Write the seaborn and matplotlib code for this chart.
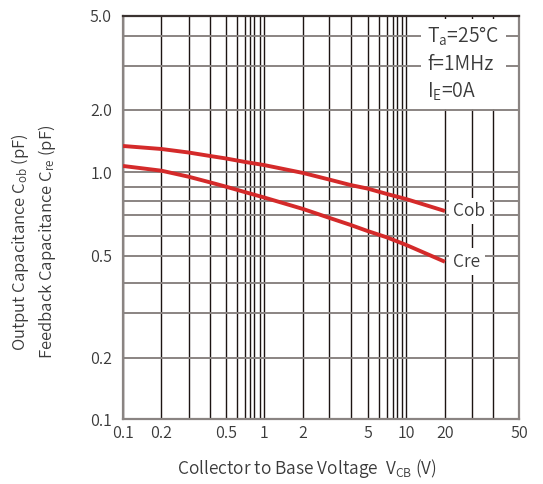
import numpy as np
import pandas as pd
import matplotlib
matplotlib.use("Agg")
import matplotlib.pyplot as plt
from matplotlib.ticker import FixedLocator, FixedFormatter, NullFormatter
import seaborn as sns

# ---- data -------------------------------------------------------------
vcb = [0.1, 0.2, 0.3, 0.4, 0.5, 0.7, 1, 2, 3, 4, 5, 7, 10, 20]
cob = [1.34, 1.296, 1.246, 1.199, 1.166, 1.121, 1.084, 0.995, 0.949, 0.911,
       0.886, 0.846, 0.811, 0.725]
cre = [1.073, 1.018, 0.968, 0.929, 0.90, 0.859, 0.822, 0.739, 0.685, 0.650,
       0.622, 0.592, 0.553, 0.477]

x_ticks = [0.1, 0.2, 0.5, 1, 2, 5, 10, 20, 50]
x_tick_labels = ["0.1", "0.2", "0.5", "1", "2", "5", "10", "20", "50"]
y_ticks = [0.1, 0.2, 0.5, 1, 2, 5]
y_tick_labels = ["0.1", "0.2", "0.5", "1.0", "2.0", "5.0"]

# rulings of the chart paper
x_rules = [0.1, 0.2, 0.3, 0.4, 0.5, 0.6, 0.7, 0.8, 0.9, 0.95, 1,
           2, 3, 4, 5, 6, 7, 8, 9, 9.5, 10, 20, 30, 40, 50]
y_rules = [0.1, 0.2, 0.3, 0.4, 0.5, 0.6, 0.7, 0.8, 0.9, 1, 2, 3, 4, 5]

# the paper's decades are not evenly ruled: position of each ruling
x_rule_pos = [123.3, 161.7, 189.0, 210.3, 226.3, 237.7, 245.7, 250.3, 254.7,
              259.7, 264.3, 303.3, 329.0, 350.7, 367.7, 378.7, 387.3, 392.7,
              397.3, 402.0, 406.3, 445.0, 472.3, 492.7, 519.0]
y_rule_pos = [419.0, 358.0, 312.7, 283.3, 256.0, 236.0, 214.7, 200.7, 186.7,
              172.3, 110.0, 66.0, 36.0, 16.0]


def paper_scale(values, positions):
    lv = np.log10(np.asarray(values, float))
    p = np.asarray(positions, float)
    s_lo = (p[1] - p[0]) / (lv[1] - lv[0])
    s_hi = (p[-1] - p[-2]) / (lv[-1] - lv[-2])

    def fwd(v):
        l = np.log10(np.clip(np.asarray(v, float), 1e-9, None))
        out = np.interp(l, lv, p)
        out = np.where(l < lv[0], p[0] + (l - lv[0]) * s_lo, out)
        out = np.where(l > lv[-1], p[-1] + (l - lv[-1]) * s_hi, out)
        return out

    def inv(t):
        t = np.asarray(t, float)
        l = np.interp(t, p, lv)
        l = np.where(t < p[0], lv[0] + (t - p[0]) / s_lo, l)
        l = np.where(t > p[-1], lv[-1] + (t - p[-1]) / s_hi, l)
        return 10.0 ** l

    return fwd, inv


# ---- style ------------------------------------------------------------
sns.set_theme(style="white")
FONT = ["Noto Sans CJK JP", "DejaVu Sans"]
plt.rcParams["font.family"] = FONT
plt.rcParams["font.weight"] = 350
plt.rcParams["mathtext.fontset"] = "custom"
plt.rcParams["mathtext.rm"] = "Noto Sans CJK JP:weight=350"
plt.rcParams["mathtext.it"] = "Noto Sans CJK JP:weight=350"

TEXT = "#3a3a3a"
RED = "#d42a2a"
VLINE = "#1c1412"
HLINE = "#8a8482"

df = pd.DataFrame({
    "V": vcb * 2,
    "C": cob + cre,
    "curve": ["Cob"] * len(vcb) + ["Cre"] * len(vcb),
})

fig = plt.figure(figsize=(5.43, 4.84), dpi=100)
W, H = 543, 484
ax = fig.add_axes([123 / W, 1 - 419 / H, (519 - 123) / W, (419 - 16) / H])

ax.set_xscale("function", functions=paper_scale(x_rules, x_rule_pos))
ax.set_yscale("function",
              functions=paper_scale(y_rules, [-v for v in y_rule_pos]))

sns.lineplot(data=df, x="V", y="C", hue="curve",
             palette={"Cob": RED, "Cre": RED}, linewidth=2.8,
             legend=False, ax=ax, zorder=3, solid_capstyle="butt",
             solid_joinstyle="round")

ax.set_xlim(0.1, 50)
ax.set_ylim(0.1, 5)

ax.xaxis.set_major_locator(FixedLocator(x_ticks))
ax.xaxis.set_major_formatter(FixedFormatter(x_tick_labels))
ax.xaxis.set_minor_locator(FixedLocator(x_rules))
ax.xaxis.set_minor_formatter(NullFormatter())
ax.yaxis.set_major_locator(FixedLocator(y_ticks))
ax.yaxis.set_major_formatter(FixedFormatter(y_tick_labels))
ax.yaxis.set_minor_locator(FixedLocator(y_rules))
ax.yaxis.set_minor_formatter(NullFormatter())

ax.xaxis.grid(True, which="both", color=VLINE, linewidth=1.0, zorder=1)
ax.yaxis.grid(True, which="both", color=HLINE, linewidth=1.4, zorder=1)
ax.set_axisbelow(True)

ax.tick_params(axis="both", which="both", length=0)
ax.tick_params(axis="x", pad=4, labelsize=11.5, labelcolor=TEXT)
ax.tick_params(axis="y", pad=8, labelsize=11.5, labelcolor=TEXT)
for s in ax.spines.values():
    s.set_color(HLINE)
    s.set_linewidth(1.6)
ax.spines["top"].set_color("#3a3230")

ax.set_xlabel("")
ax.set_ylabel("")

# curve labels
for name, val in (("Cob", cob[-1]), ("Cre", cre[-1])):
    ax.annotate(name, xy=(vcb[-1], val), xytext=(6, 0),
                textcoords="offset points", ha="left", va="center",
                fontsize=12.5, color=TEXT, zorder=4,
                bbox=dict(boxstyle="square,pad=0.25", fc="white", ec="none"))

# measurement conditions
ax.text(0.768, 0.978,
        "T$_\\mathrm{a}$=25°C\nf=1MHz\nI$_\\mathrm{E}$=0A",
        transform=ax.transAxes, ha="left", va="top", fontsize=14,
        color=TEXT, linespacing=1.35, zorder=4,
        bbox=dict(boxstyle="square,pad=0.3", fc="white", ec="none"))

fig.text(307 / W, 1 - 468 / H,
         "Collector to Base Voltage  V$_\\mathrm{CB}$ (V)",
         ha="center", va="center", fontsize=12.5, color=TEXT)
fig.text(20 / W, 1 - 242 / H, "Output Capacitance C$_\\mathrm{ob}$ (pF)",
         rotation=90, ha="center", va="center", fontsize=12, color=TEXT)
fig.text(47 / W, 1 - 242 / H, "Feedback Capacitance C$_\\mathrm{re}$ (pF)",
         rotation=90, ha="center", va="center", fontsize=12, color=TEXT)

fig.savefig("out.png", dpi=100, facecolor="white")
